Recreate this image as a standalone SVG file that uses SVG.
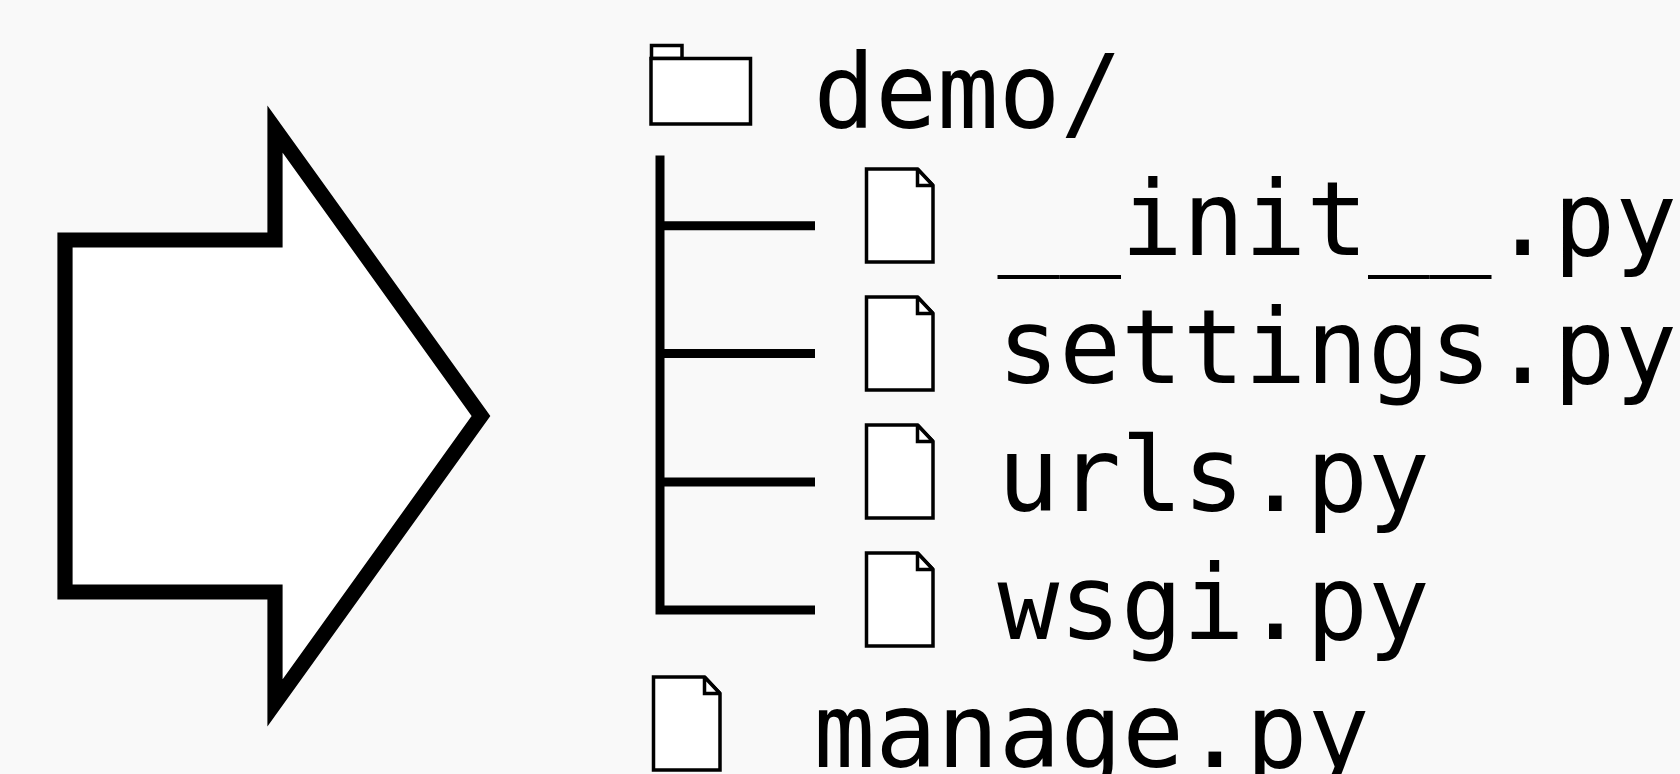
<svg xmlns="http://www.w3.org/2000/svg" width="1680" height="774" viewBox="0 0 1680 774">
<style>
.l{font-family:"DejaVu Sans Mono",monospace;font-size:102.600px;fill:#000}
.i{fill:#fff;stroke:#000;stroke-width:3.500;stroke-miterlimit:2}
.c{fill:none;stroke:#000;stroke-width:9}
</style>
<defs>
<g id="file"><path class="i" d="M0 0H51L66.500 16.500V93H0Z"/><path class="i" d="M51 0V16.500H66.500Z"/></g>
</defs>
<rect width="1680" height="774" fill="#f9f9f9"/>
<g id="big-arrow"><path d="M65 240H275V129L481 416L275 703V592H65Z" fill="#fff" stroke="#000" stroke-width="15.200"/></g>
<g id="connectors">
<path class="c" d="M660 155.500V610H815M660 225.700H815M660 353.500H815M660 482H815"/>
</g>
<g id="demo">
<rect class="i" x="651.500" y="45.500" width="30.500" height="13"/>
<rect class="i" x="651" y="58.500" width="99.500" height="65.500"/>
<text class="l" x="813.500" y="127.500">demo/</text>
</g>
<g id="init"><use href="#file" x="866.500" y="169"/><text class="l" x="997.500" y="255">__init__.py</text></g>
<g id="settings"><use href="#file" x="866.500" y="297"/><text class="l" x="997.500" y="383">settings.py</text></g>
<g id="urls"><use href="#file" x="866.500" y="425"/><text class="l" x="997.500" y="511">urls.py</text></g>
<g id="wsgi"><use href="#file" x="866.500" y="553"/><text class="l" x="997.500" y="639">wsgi.py</text></g>
<g id="manage"><use href="#file" x="653.500" y="677"/><text class="l" x="813.500" y="767">manage.py</text></g>
</svg>
